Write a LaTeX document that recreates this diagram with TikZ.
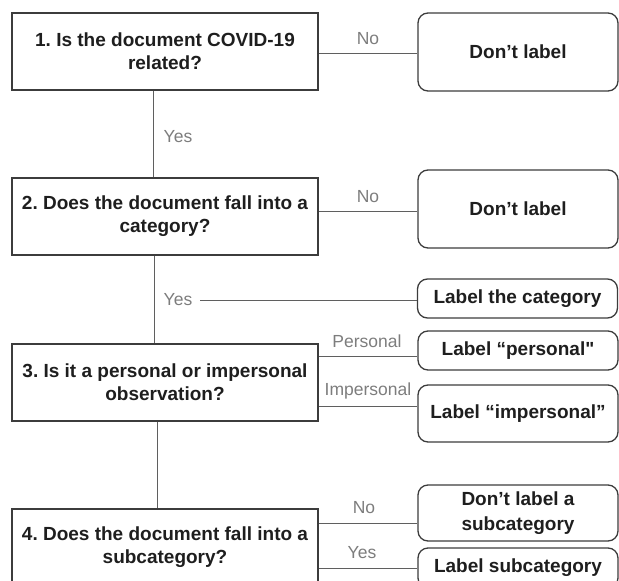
\documentclass[tikz,border=0pt]{standalone}
\usepackage{fontspec}
\setmainfont{Liberation Sans}[Ligatures=TeXOff]
\definecolor{linecol}{RGB}{60,60,60}
\definecolor{conncol}{RGB}{95,95,95}
\definecolor{labcol}{RGB}{125,125,125}
\definecolor{txtcol}{RGB}{30,30,30}
\begin{document}
\frenchspacing
\begin{tikzpicture}[x=1pt,y=-1pt,
  qbox/.style={draw=linecol, line width=1.3pt, minimum width=306pt, minimum height=77pt,
    inner sep=0pt, align=center, text=txtcol, font=\bfseries\fontsize{19}{23}\selectfont},
  abox/.style={draw=linecol, line width=1.3pt, rounded corners=10pt, minimum width=200pt,
    inner sep=0pt, align=center, text=txtcol, font=\bfseries\fontsize{19}{25}\selectfont},
  lab/.style={text=labcol, inner sep=0pt, font=\fontsize{17.5}{20}\selectfont},
  conn/.style={draw=conncol, line width=1pt}]
\useasboundingbox (0,0) rectangle (619,581);
\clip (0,0) rectangle (619,581);

% question boxes
\node[qbox] (q1) at (165,51.5) {1. Is the document COVID-19\\related?};
\node[qbox] (q2) at (165,216.5) {2. Does the document fall into a\\category?};
\node[qbox] (q3) at (165,382.5) {3. Is it a personal or impersonal\\observation?};
\node[qbox] (q4) at (165,547.5) {4. Does the document fall into a\\subcategory?};

% answer boxes
\node[abox, minimum height=78pt] (d1) at (518,52) {Don’t label};
\node[abox, minimum height=78pt] (d2) at (518,209) {Don’t label};
\node[abox, minimum height=39pt] (cat) at (517.5,298.5) {Label the category};
\node[abox, minimum height=39pt] (pers) at (518,350.5) {Label “personal"};
\node[abox, minimum height=57pt] (imp) at (518,413.5) {Label “impersonal”};
\node[abox, minimum height=56pt] (dsub) at (518,513) {Don’t label a\\subcategory};
\node[abox, minimum height=40pt] (lsub) at (518,568) {Label subcategory};

% labels
\node[lab] (no1) at (368,39) {No};
\node[lab] (yes1) at (178,137) {Yes};
\node[lab] (no2) at (368,197) {No};
\node[lab] (yes2) at (178,300) {Yes};
\node[lab] (lpers) at (367,341) {Personal};
\node[lab] (limp) at (368,391) {Impersonal};
\node[lab] (no4) at (364,508) {No};
\node[lab] (yes4) at (362,553) {Yes};

% connectors
\draw[conn] ([yshift=-1.5pt]q1.east) -- ([yshift=-1.5pt]q1.east -| d1.west);
\draw[conn] ([xshift=-12pt]q1.south) -- ([xshift=-12pt]q1.south |- q2.north);
\draw[conn] ([yshift=-2pt]d2.west -| q2.east) -- ([yshift=-2pt]d2.west);
\draw[conn] ([xshift=-11pt]q2.south) -- ([xshift=-11pt]q2.south |- q3.north);
\draw[conn] ([xshift=8pt]yes2.east) -- (yes2.east -| cat.west);
\draw[conn] ([yshift=-5.5pt]pers.west -| q3.east) -- ([yshift=-5.5pt]pers.west);
\draw[conn] ([yshift=7.5pt]imp.west -| q3.east) -- ([yshift=7.5pt]imp.west);
\draw[conn] ([xshift=-8pt]q3.south) -- ([xshift=-8pt]q3.south |- q4.north);
\draw[conn] ([yshift=-10pt]dsub.west -| q4.east) -- ([yshift=-10pt]dsub.west);
\draw[conn] (lsub.west -| q4.east) -- (lsub.west);
\end{tikzpicture}
\end{document}
